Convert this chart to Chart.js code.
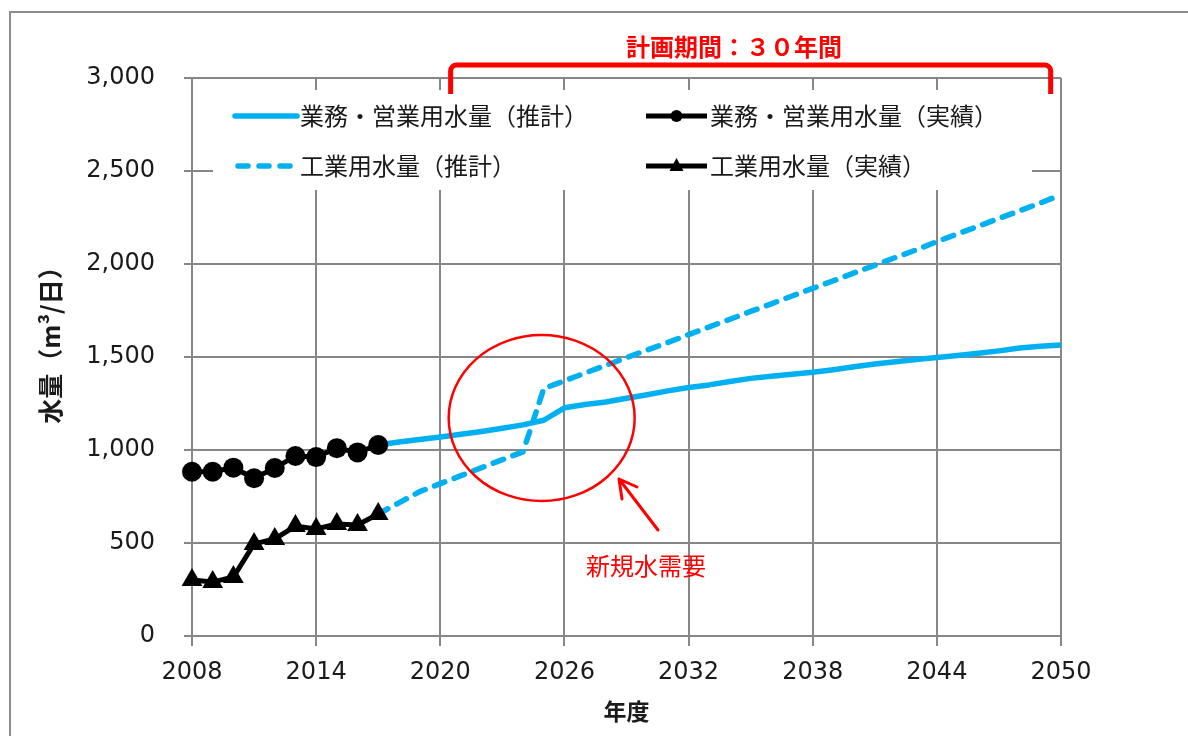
<!DOCTYPE html>
<html lang="ja">
<head>
<meta charset="utf-8">
<title>水量の推移</title>
<script src="https://cdn.jsdelivr.net/npm/chart.js@4.4.1/dist/chart.umd.min.js"></script>
<style>
  html, body { margin: 0; padding: 0; background: #fff; }
  #wrap { width: 1188px; height: 736px; }
</style>
</head>
<body>
<div id="wrap"><canvas id="waterChart" width="1188" height="736"></canvas></div>
<script>
// 実績 (2008-2017)
const actualYears = [2008, 2009, 2010, 2011, 2012, 2013, 2014, 2015, 2016, 2017];
const bizActual = [883, 883, 905, 848, 903, 968, 962, 1010, 987, 1027];
const indActual = [301, 290, 317, 495, 522, 591, 575, 602, 597, 656];

// 推計 (2017-2050)
const projYears = [2017, 2018, 2019, 2020, 2021, 2022, 2023, 2024, 2025, 2026,
  2027, 2028, 2029, 2030, 2031, 2032, 2033, 2034, 2035, 2036, 2037, 2038,
  2039, 2040, 2041, 2042, 2043, 2044, 2045, 2046, 2047, 2048, 2049, 2050];
const bizProj = [1027, 1043, 1057, 1070, 1085, 1100, 1117, 1135, 1160, 1227,
  1245, 1258, 1278, 1297, 1318, 1336, 1350, 1368, 1385, 1397, 1407, 1418,
  1432, 1448, 1462, 1475, 1487, 1497, 1508, 1520, 1533, 1548, 1558, 1565];
const indProj = [656, 716, 776, 819, 862, 905, 948, 990, 1330, 1372,
  1414, 1455, 1497, 1538, 1578, 1620, 1662, 1703, 1745, 1786, 1828, 1869,
  1910, 1952, 1993, 2035, 2076, 2120, 2162, 2203, 2245, 2286, 2328, 2372];

const seriesNames = ['業務・営業用水量（推計）', '業務・営業用水量（実績）', '工業用水量（推計）', '工業用水量（実績）'];
const xTitle = '年度';
const yTitle = '水量（m³/日）';
const periodLabel = '計画期間：３０年間';
const noteLabel = '新規水需要';

const BLUE = '#00b0f0';
const GRID = '#878787';
const TEXT = '#1a1a1a';
const RED = '#ff0000';
const CJK = "'Noto Sans CJK JP', sans-serif";
const NUM = "'DejaVu Sans', Verdana, sans-serif";

function toPoints(xs, ys) {
  return xs.map((x, i) => ({ x: x, y: ys[i] }));
}

function drawLegend(ctx) {
  // 凡例の白い枠（グリッドを隠す）
  ctx.save();
  ctx.fillStyle = '#fff';
  ctx.fillRect(213, 90, 819, 100);

  const rows = [116, 166];
  const cols = [{ x1: 235, x2: 297, tx: 300 }, { x1: 646, x2: 707, tx: 710 }];

  // 推計（実線）
  ctx.lineCap = 'round';
  ctx.strokeStyle = BLUE;
  ctx.lineWidth = 5.5;
  ctx.beginPath();
  ctx.moveTo(cols[0].x1, rows[0]);
  ctx.lineTo(cols[0].x2, rows[0]);
  ctx.stroke();
  // 推計（破線）
  ctx.setLineDash([10, 11]);
  ctx.beginPath();
  ctx.moveTo(cols[0].x1 + 3, rows[1]);
  ctx.lineTo(cols[0].x2, rows[1]);
  ctx.stroke();
  ctx.setLineDash([]);

  // 実績（黒線＋マーカー）
  ctx.strokeStyle = '#000';
  ctx.fillStyle = '#000';
  ctx.lineWidth = 5;
  ctx.lineCap = 'butt';
  rows.forEach((y, i) => {
    ctx.beginPath();
    ctx.moveTo(cols[1].x1, y);
    ctx.lineTo(cols[1].x2, y);
    ctx.stroke();
    const cx = (cols[1].x1 + cols[1].x2) / 2;
    ctx.beginPath();
    if (i === 0) {
      ctx.arc(cx, y, 6, 0, Math.PI * 2);
    } else {
      ctx.moveTo(cx, y - 8);
      ctx.lineTo(cx + 7, y + 5);
      ctx.lineTo(cx - 7, y + 5);
      ctx.closePath();
    }
    ctx.fill();
  });

  ctx.fillStyle = TEXT;
  ctx.font = '24px ' + CJK;
  ctx.textAlign = 'left';
  ctx.textBaseline = 'middle';
  ctx.fillText(seriesNames[0], cols[0].tx, rows[0]);
  ctx.fillText(seriesNames[1], cols[1].tx, rows[0]);
  ctx.fillText(seriesNames[2], cols[0].tx, rows[1]);
  ctx.fillText(seriesNames[3], cols[1].tx, rows[1]);
  ctx.restore();
}

const overlayPlugin = {
  id: 'overlay',
  beforeDatasetsDraw(chart) {
    drawLegend(chart.ctx);
  },
  afterDraw(chart) {
    const ctx = chart.ctx;
    const xs = chart.scales.x;
    const ys = chart.scales.y;
    ctx.save();

    // 外枠
    ctx.strokeStyle = '#8c8c8c';
    ctx.lineWidth = 2;
    ctx.strokeRect(10, 12, 1200, 800);

    // 縦軸タイトル
    ctx.fillStyle = TEXT;
    ctx.font = 'bold 25px ' + CJK;
    ctx.textAlign = 'center';
    ctx.textBaseline = 'middle';
    ctx.save();
    ctx.translate(50, 339);
    ctx.rotate(-Math.PI / 2);
    ctx.fillText(yTitle, 0, 0);
    ctx.restore();

    // 計画期間の括弧
    const bx1 = xs.getPixelForValue(2020.5);
    const bx2 = xs.getPixelForValue(2049.5);
    ctx.strokeStyle = RED;
    ctx.lineWidth = 5;
    ctx.lineJoin = 'round';
    ctx.beginPath();
    ctx.moveTo(bx1, 94);
    ctx.arcTo(bx1, 65, bx1 + 10, 65, 6);
    ctx.arcTo(bx2, 65, bx2, 94, 6);
    ctx.lineTo(bx2, 94);
    ctx.stroke();

    ctx.fillStyle = RED;
    ctx.font = 'bold 24px ' + CJK;
    ctx.fillText(periodLabel, 734, 47);

    // 新規水需要の丸印
    const ex = xs.getPixelForValue(2024.9);
    const ey = ys.getPixelForValue(1172);
    ctx.lineWidth = 2.5;
    ctx.beginPath();
    ctx.ellipse(ex, ey, 93, 83, 0, 0, Math.PI * 2);
    ctx.stroke();

    // 矢印
    ctx.lineWidth = 3;
    ctx.lineCap = 'round';
    ctx.beginPath();
    ctx.moveTo(658, 530);
    ctx.lineTo(619, 479);
    ctx.moveTo(637, 487);
    ctx.lineTo(619, 479);
    ctx.lineTo(622, 499);
    ctx.stroke();

    ctx.font = '24px ' + CJK;
    ctx.fillText(noteLabel, 646, 566);
    ctx.restore();
  }
};

new Chart(document.getElementById('waterChart'), {
  type: 'line',
  data: {
    datasets: [
      {
        label: seriesNames[1],
        data: toPoints(actualYears, bizActual),
        borderColor: '#000',
        backgroundColor: '#000',
        borderWidth: 5,
        pointStyle: 'circle',
        pointRadius: 10,
        pointBorderWidth: 0,
        clip: false
      },
      {
        label: seriesNames[3],
        data: toPoints(actualYears, indActual),
        borderColor: '#000',
        backgroundColor: '#000',
        borderWidth: 5,
        pointStyle: 'triangle',
        pointRadius: 12,
        pointBorderWidth: 0,
        clip: false
      },
      {
        label: seriesNames[0],
        data: toPoints(projYears, bizProj),
        borderColor: BLUE,
        borderWidth: 5.5,
        pointRadius: 0,
        borderJoinStyle: 'round'
      },
      {
        label: seriesNames[2],
        data: toPoints(projYears, indProj),
        borderColor: BLUE,
        borderWidth: 5.5,
        borderDash: [11, 10],
        borderCapStyle: 'round',
        pointRadius: 0,
        borderJoinStyle: 'round'
      }
    ]
  },
  options: {
    responsive: false,
    animation: false,
    layout: { padding: { top: 78, right: 127, left: 0, bottom: 0 } },
    plugins: {
      legend: { display: false },
      tooltip: { enabled: false }
    },
    scales: {
      x: {
        type: 'linear',
        min: 2008,
        max: 2050,
        afterFit(scale) { scale.height = 100; },
        ticks: {
          stepSize: 6,
          padding: 12,
          color: TEXT,
          font: { family: NUM, size: 24 },
          callback: v => String(v)
        },
        grid: { color: GRID, lineWidth: 2, tickLength: 10 },
        border: { color: GRID, width: 2 },
        title: {
          display: true,
          text: xTitle,
          color: TEXT,
          font: { family: CJK, size: 23, weight: 'bold' },
          padding: { top: 0, bottom: 11 }
        }
      },
      y: {
        min: 0,
        max: 3000,
        afterFit(scale) { scale.width = 192; },
        ticks: {
          stepSize: 500,
          padding: 29,
          color: TEXT,
          font: { family: NUM, size: 24 },
          callback: v => v.toLocaleString('en-US')
        },
        grid: { color: GRID, lineWidth: 2, tickLength: 8 },
        border: { color: GRID, width: 2 }
      }
    }
  },
  plugins: [overlayPlugin]
});
</script>
</body>
</html>
